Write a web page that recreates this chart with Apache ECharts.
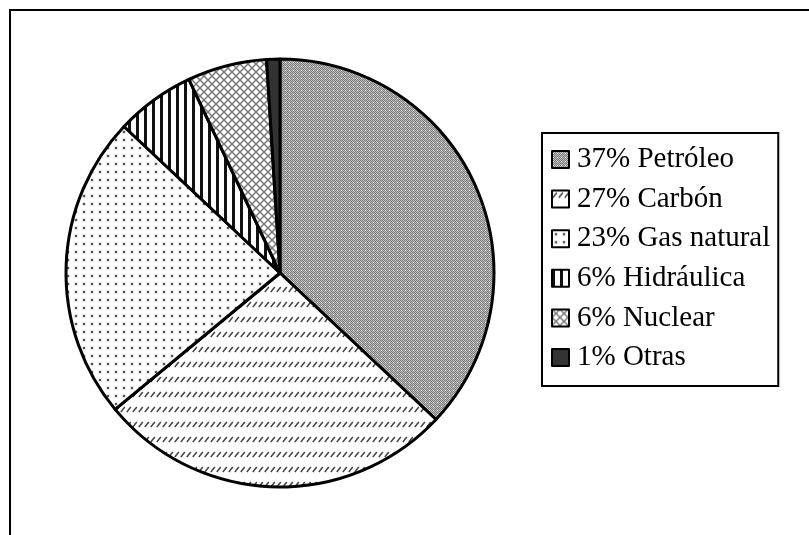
<!DOCTYPE html>
<html>
<head>
<meta charset="utf-8">
<script src="https://cdn.jsdelivr.net/npm/echarts@6/dist/echarts.min.js"></script>
<style>
  html, body { margin: 0; padding: 0; background: #fff; }
  #chart { width: 809px; height: 535px; }
</style>
</head>
<body>
<div id="chart"></div>
<script>
// Energy sources, share of total (%)
const categories = ['Petróleo', 'Carbón', 'Gas natural', 'Hidráulica', 'Nuclear', 'Otras'];
const shares = [37, 27, 23, 6, 6, 1];

// Small canvas tiles used as fill patterns
function tile(w, h, draw) {
  const c = document.createElement('canvas');
  c.width = w; c.height = h;
  const g = c.getContext('2d');
  g.fillStyle = '#fff';
  g.fillRect(0, 0, w, h);
  draw(g);
  return { image: c, repeat: 'repeat' };
}

const fills = [
  // fine grey checker
  tile(4, 4, g => {
    for (let y = 0; y < 4; y++) for (let x = 0; x < 4; x++) {
      g.fillStyle = (x + y) % 2 === 0 ? '#7c7c7c' : '#bdbdbd';
      g.fillRect(x, y, 1, 1);
    }
    g.fillStyle = '#f0f0f0';
    g.fillRect(1, 2, 1, 1);
  }),
  // rows of short rising dashes
  tile(6, 15, g => {
    g.strokeStyle = '#444';
    g.lineWidth = 1.5;
    g.beginPath();
    g.moveTo(0.8, 7.0); g.lineTo(4.8, 2.0);
    g.stroke();
  }),
  // dot grid
  tile(8, 8, g => {
    g.fillStyle = '#bbb';
    g.fillRect(2.5, 2.5, 3, 3);
    g.fillStyle = '#555';
    g.fillRect(3, 3, 2, 2);
  }),
  // vertical stripes
  tile(8, 8, g => {
    g.fillStyle = '#111';
    g.fillRect(0, 0, 3, 8);
  }),
  // diagonal cross-hatch
  tile(8, 8, g => {
    g.strokeStyle = '#7a7a7a';
    g.lineWidth = 1.5;
    g.beginPath();
    g.moveTo(-1, -1); g.lineTo(9, 9);
    g.moveTo(-1, 9); g.lineTo(9, -1);
    g.stroke();
  }),
  '#333333'
];

const pieData = categories.map((name, i) => ({
  name: name,
  value: shares[i],
  itemStyle: { color: fills[i] }
}));

const chart = echarts.init(document.getElementById('chart'), null, { renderer: 'canvas' });
chart.setOption({
  animation: false,
  backgroundColor: '#fff',
  graphic: [{
    type: 'rect',
    shape: { x: 10, y: 10, width: 900, height: 700 },
    style: { fill: null, stroke: '#000', lineWidth: 2 },
    silent: true
  }],
  legend: {
    orient: 'vertical',
    left: 542,
    top: 133,
    padding: [12, 8, 14, 9],
    itemGap: 10.6,
    itemWidth: 17,
    itemHeight: 17,
    icon: 'rect',
    borderColor: '#000',
    borderWidth: 2,
    backgroundColor: '#fff',
    selectedMode: false,
    itemStyle: { borderColor: '#000', borderWidth: 2 },
    formatter: name => shares[categories.indexOf(name)] + '% ' + name,
    textStyle: {
      fontFamily: 'Liberation Serif',
      fontSize: 29,
      lineHeight: 28,
      color: '#000',
      padding: [0, 0, 0, 3]
    },
    data: categories
  },
  series: [{
    type: 'pie',
    center: [280, 273],
    radius: [0, 214],
    startAngle: 90,
    clockwise: true,
    silent: true,
    label: { show: false },
    labelLine: { show: false },
    itemStyle: { borderColor: '#000', borderWidth: 3 },
    emphasis: { disabled: true },
    data: pieData
  }]
});
</script>
</body>
</html>
